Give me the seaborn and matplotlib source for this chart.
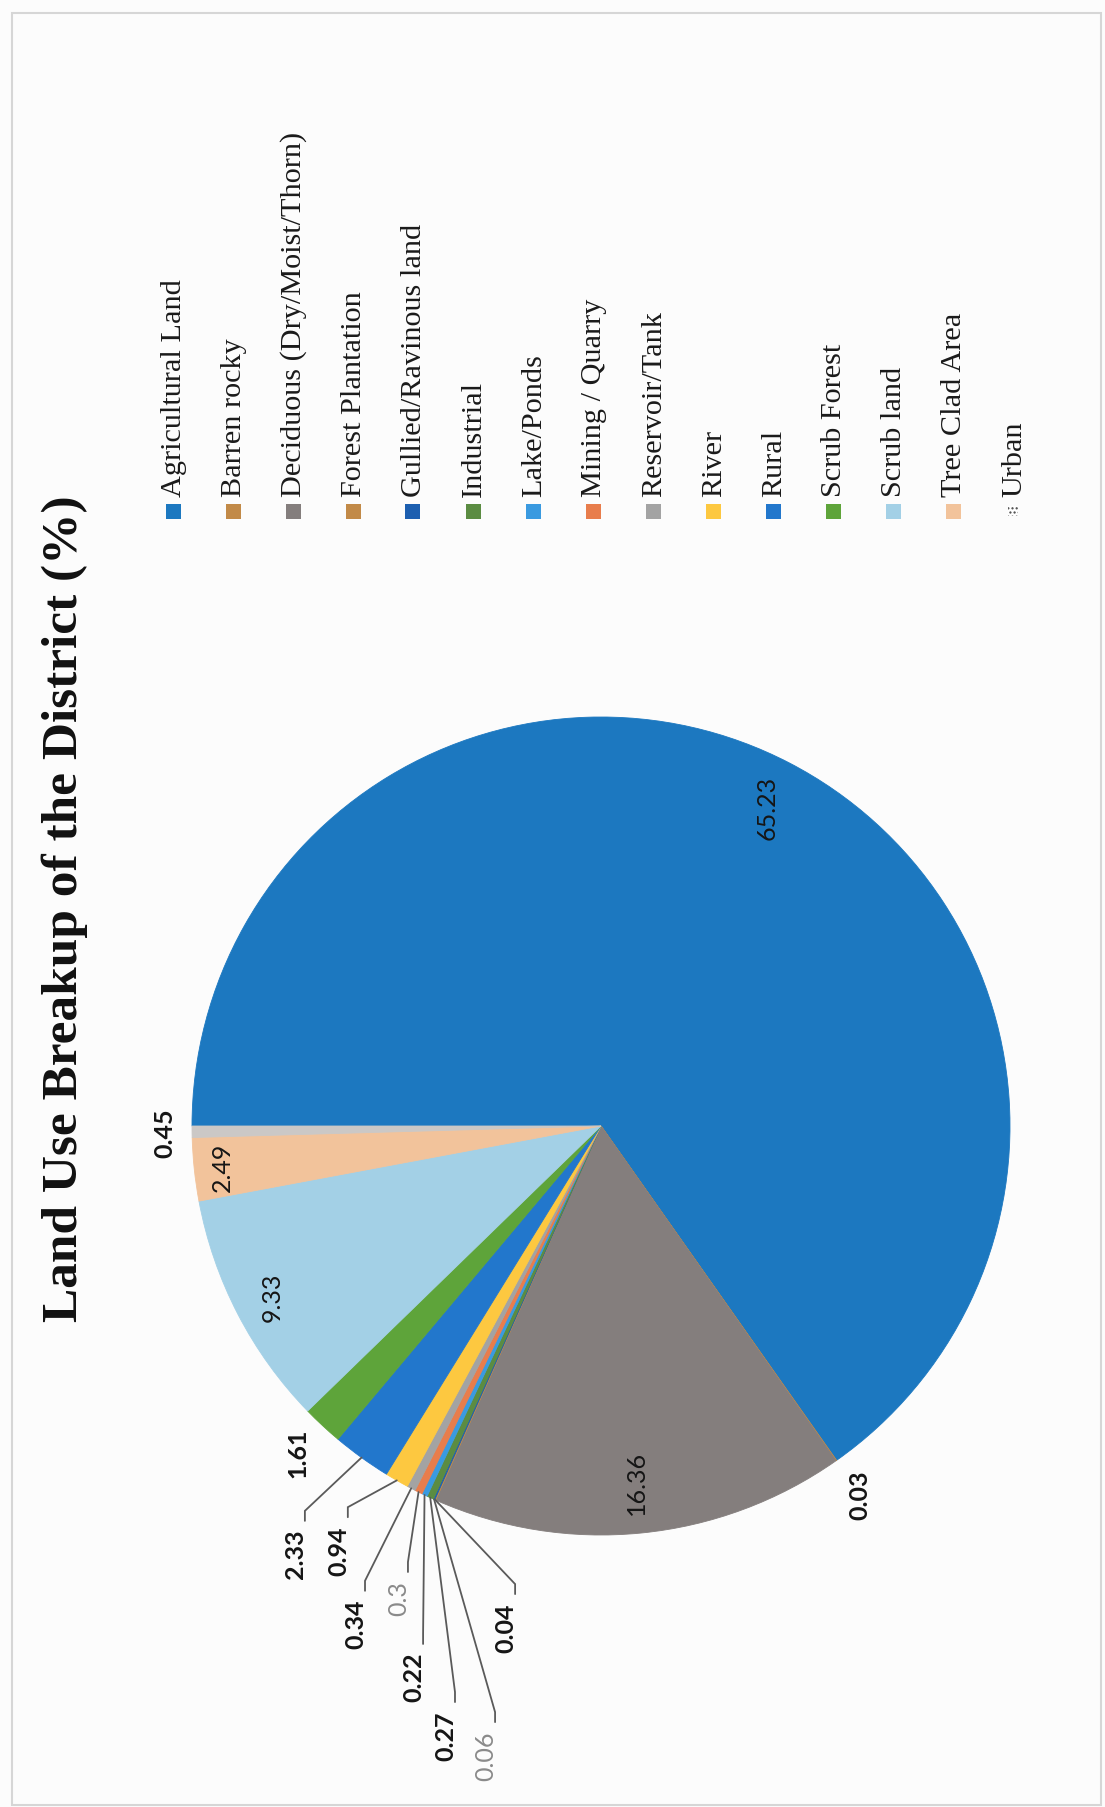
import numpy as np
import pandas as pd
import matplotlib
matplotlib.use("Agg")
import matplotlib.pyplot as plt
from matplotlib.patches import Rectangle
import seaborn as sns

# ---------------- data ----------------
categories = ["Agricultural Land", "Barren rocky", "Deciduous (Dry/Moist/Thorn)",
              "Forest Plantation", "Gullied/Ravinous land", "Industrial", "Lake/Ponds",
              "Mining / Quarry", "Reservoir/Tank", "River", "Rural", "Scrub Forest",
              "Scrub land", "Tree Clad Area", "Urban"]
values = [65.23, 0.03, 16.36, 0.04, 0.06, 0.27, 0.22, 0.3, 0.34, 0.94, 2.33, 1.61,
          9.33, 2.49, 0.45]
colors = ["#1c78c0", "#c28a48", "#847e7d", "#c28a48", "#1d5fb0", "#5b8c42", "#3a9ae0",
          "#e87d4c", "#a3a3a3", "#fdc840", "#2277cc", "#5ea43a", "#a3d0e6", "#f2c39b",
          "#cbc8c6"]
title = "Land Use Breakup of the District (%)"

df = pd.DataFrame({"category": categories, "value": values, "color": colors})

# ---------------- layout ----------------
W, H, DPI = 1105, 1808, 100
CX, CY, R = 601, 1127, 409          # pie centre / radius in pixels

# label placement: ('in', r) / ('out', r) at slice mid-angle, or ('lead', elbow_x, elbow_y) in radius units
label_layout = {
    0: ("in", 0.88), 1: ("out", 1.10), 2: ("in", 0.875),
    3: ("lead", -0.210, -1.120), 4: ("lead", -0.259, -1.433),
    5: ("lead", -0.357, -1.384), 6: ("lead", -0.435, -1.242),
    7: ("lead", -0.472, -1.066), 8: ("lead", -0.577, -1.112),
    9: ("lead", -0.619, -0.932), 10: ("lead", -0.724, -0.941),
    11: ("out", 1.089), 12: ("in", 0.905), 13: ("in", 0.93), 14: ("out", 1.066),
}
light_labels = {4, 7}

sns.set_theme(style="white")
plt.rcParams["font.family"] = ["Liberation Serif", "DejaVu Serif"]

fig = plt.figure(figsize=(W / DPI, H / DPI), dpi=DPI, facecolor="#fcfcfc")
ax = fig.add_axes([0, 0, 1, 1])
ax.set_facecolor("none")

wedges, _ = ax.pie(df["value"], colors=df["color"], startangle=180, counterclock=False,
                   radius=1, wedgeprops=dict(linewidth=0.6))
for w in wedges:
    w.set_edgecolor(w.get_facecolor())

ax.set_xlim(-CX / R, (W - CX) / R)
ax.set_ylim((CY - H) / R, CY / R)
ax.set_aspect("auto")
ax.axis("off")

lab_font = dict(family=["Lato", "DejaVu Sans"], fontsize=18, rotation=90)
for i, (w, v) in enumerate(zip(wedges, df["value"])):
    mid = np.deg2rad((w.theta1 + w.theta2) / 2)
    txt = f"{v:g}"
    col = "#8a8a8a" if i in light_labels else "#151515"
    lay = label_layout[i]
    if lay[0] == "in":
        r = lay[1]
        ax.text(r * np.cos(mid), r * np.sin(mid), txt, ha="center", va="center",
                color=col, **lab_font)
    elif lay[0] == "out":
        r = lay[1]
        ax.text(r * np.cos(mid), r * np.sin(mid), txt, ha="center", va="center",
                color=col, fontweight="bold", **lab_font)
    else:
        ex, ey = lay[1], lay[2]
        sx, sy = np.cos(mid), np.sin(mid)
        ax.plot([sx, ex, ex], [sy, ey, ey - 10 / R], color="#5a5a5a", lw=1.3,
                solid_joinstyle="miter")
        ax.text(ex - 9 / R, ey - 18 / R, txt, ha="center", va="top", color=col,
                fontweight="normal" if i in light_labels else "bold", **lab_font)

# title
fig.text(65 / W, 1 - 909 / H, title, rotation=90, ha="center", va="center",
         fontsize=37, fontweight="bold", color="#111111")

# legend (rotated, drawn manually)
for k, (cat, col) in enumerate(zip(categories, colors)):
    x = 173 + 60 * k
    sq = 15
    if cat == "Urban":
        fig.add_artist(Rectangle(((x - 5) / W, 1 - (512 + 5) / H), 10 / W, 10 / H,
                                 transform=fig.transFigure, facecolor="white",
                                 edgecolor="#444444", hatch="....", lw=0.0))
    else:
        fig.add_artist(Rectangle(((x - sq / 2) / W, 1 - (512 + sq / 2) / H), sq / W, sq / H,
                                 transform=fig.transFigure, facecolor=col, lw=0))
    fig.text((x + 1) / W, 1 - 497 / H, cat, rotation=90, ha="center", va="bottom",
             fontsize=21.8, color="#1a1a1a")

# page border
fig.add_artist(Rectangle((12 / W, 1 - 1806 / H), (1101 - 12) / W, (1806 - 14) / H,
                         transform=fig.transFigure, fill=False, edgecolor="#d6d6d6", lw=1.5))

fig.savefig("out.png", dpi=DPI, facecolor=fig.get_facecolor())
